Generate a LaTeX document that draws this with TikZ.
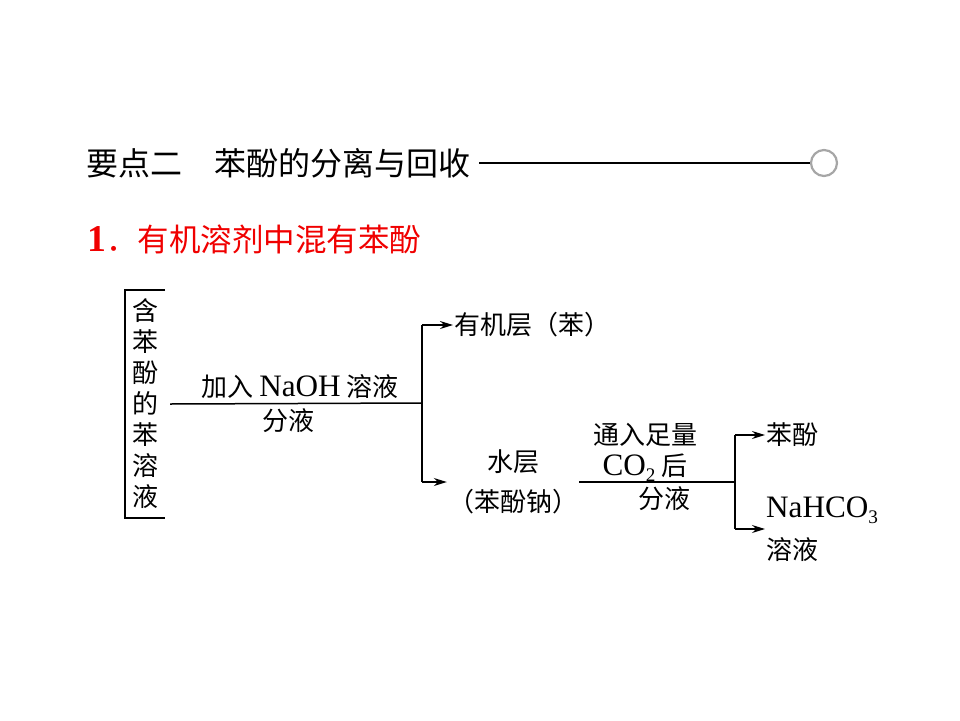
\documentclass[tikz,border=0pt]{standalone}
\usepackage{fontspec}
\setmainfont{Noto Sans CJK SC}
\newfontfamily\lat[Scale=1.2]{Liberation Serif}
\newcommand\subnum[1]{\raisebox{-6pt}{\fontsize{16}{16}\selectfont #1}}
\usetikzlibrary{arrows.meta,positioning}
\definecolor{ringgray}{HTML}{A6A6A6}
\definecolor{headred}{HTML}{F00000}

\begin{document}
\begin{tikzpicture}[x=1pt,y=-1pt,
 txt/.style={font=\fontsize{26}{31}\selectfont,inner sep=1pt,align=center},
 arr/.style={-{Stealth[length=13pt,width=8pt]},line width=1.5pt},
 ln/.style={line width=1.5pt}]
\useasboundingbox (0,0) rectangle (960,720);
\node[anchor=west,inner sep=0pt,font=\fontsize{32}{38}\selectfont] (title) at (86,163) {要点二　苯酚的分离与回收};
\node[draw=ringgray,line width=2.2pt,circle,minimum size=26pt,inner sep=0pt] (ring) at (824,163) {};
\draw[line width=1.8pt] ([xshift=9pt]title.east) -- (ring.west);
\node[anchor=west,inner sep=0pt,text=headred,font=\fontsize{31.5}{38}\selectfont] (head) at (87,239) {{\lat\bfseries 1}．有机溶剂中混有苯酚};
\node[txt,minimum width=40pt,minimum height=228pt] (src) at (145,404) {含\\苯\\酚\\的\\苯\\溶\\液};
\draw[ln] (src.north east) -- (src.north west) -- (src.south west) -- (src.south east);
\coordinate (b1) at (422,403);
\coordinate (b1t) at (422,325);
\coordinate (b1b) at (422,482);
\draw[ln] ([xshift=5pt]src.east) -- (b1);
\node[txt] (add) at (300,387) {加入 {\lat NaOH} 溶液};
\node[txt] (sep1) at (288,421) {分液};
\draw[ln] (b1t) -- (b1b);
\node[txt,anchor=west] (org) at (453,325) {有机层（苯）};
\node[txt,font=\fontsize{26}{40}\selectfont] (aq) at (513,482) {水层\\（苯酚钠）};
\draw[arr] (b1t) -- (org.west);
\draw[arr] (b1b) -- (aq.west);
\coordinate (b2) at (735,482);
\coordinate (b2t) at (735,435);
\coordinate (b2b) at (735,529);
\draw[ln] (aq.east) -- (b2);
\node[txt] (co2) at (645,452) {通入足量\\{\lat CO\subnum{2}} 后};
\node[txt] (sep2) at (664,499) {分液};
\draw[ln] (b2t) -- (b2b);
\node[txt,anchor=west] (phen) at (765,435) {苯酚};
\node[txt,anchor=west,align=left,font=\fontsize{26}{42}\selectfont] (salt) at (765,529) {{\lat NaHCO\subnum{3}}\\溶液};
\draw[arr] (b2t) -- (phen.west);
\draw[arr] (b2b) -- (salt.west);
\end{tikzpicture}
\end{document}
